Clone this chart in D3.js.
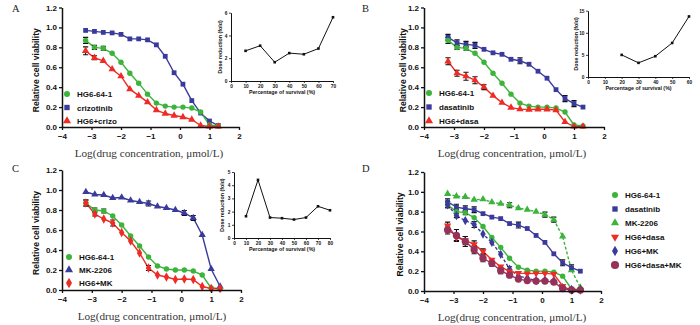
<!DOCTYPE html>
<html>
<head>
<meta charset="utf-8">
<script src="https://cdn.jsdelivr.net/npm/d3@7/dist/d3.min.js"></script>
<style>
  html, body { margin: 0; padding: 0; background: #fff; }
  svg { display: block; }
  .tick text { font-family: "Liberation Sans", Arial, sans-serif; font-weight: bold; fill: #111; }
</style>
</head>
<body>
<svg id="chart" width="700" height="325"></svg>
<script>
// Log10 drug concentration (µmol/L), two-fold dilution series
const logConc = [-3.2, -2.9, -2.6, -2.3, -2.0, -1.7, -1.4, -1.1, -0.8, -0.5, -0.2, 0.1, 0.4, 0.7, 1.0, 1.3];

// Relative cell viability (mean) and error (half-height of bar, 0 = none drawn)
const hg6 = [0.87, 0.80, 0.79, 0.74, 0.65, 0.54, 0.44, 0.33, 0.24, 0.21, 0.20, 0.20, 0.19, 0.15, 0.02, 0.01];
const hg6Err = [0.03, 0.02, 0.02, 0, 0, 0, 0, 0, 0, 0, 0, 0, 0, 0, 0, 0];

const crizotinib = [0.97, 0.96, 0.95, 0.945, 0.93, 0.885, 0.885, 0.875, 0.825, 0.71, 0.545, 0.43, 0.265, 0.14, 0.06, 0.015];
const crizotinibErr = [0, 0, 0, 0, 0, 0, 0, 0, 0, 0, 0, 0, 0, 0, 0, 0];

const hg6Crizo = [0.765, 0.695, 0.665, 0.58, 0.51, 0.38, 0.315, 0.25, 0.17, 0.135, 0.115, 0.10, 0.075, 0.015, 0.005, 0.005];
const hg6CrizoErr = [0.04, 0.02, 0, 0, 0, 0, 0, 0, 0, 0, 0, 0, 0, 0, 0, 0];

const dasatinib = [0.90, 0.845, 0.83, 0.82, 0.78, 0.745, 0.73, 0.68, 0.665, 0.63, 0.56, 0.49, 0.375, 0.285, 0.235, 0.20];
const dasatinibErr = [0.03, 0.03, 0.03, 0.03, 0, 0, 0, 0, 0.03, 0, 0, 0, 0, 0.03, 0.03, 0];

const hg6Dasa = [0.66, 0.54, 0.51, 0.47, 0.40, 0.315, 0.245, 0.195, 0.18, 0.175, 0.178, 0.178, 0.17, 0.05, 0.005, 0.005];
const hg6DasaErr = [0.035, 0.03, 0.04, 0.035, 0.025, 0, 0, 0, 0, 0, 0, 0, 0, 0, 0, 0];

const mk2206 = [0.98, 0.955, 0.95, 0.92, 0.925, 0.895, 0.88, 0.865, 0.835, 0.82, 0.80, 0.77, 0.72, 0.55, 0.21, 0.035];
const mk2206Err = [0, 0, 0, 0, 0, 0, 0, 0.025, 0, 0, 0, 0.025, 0.025, 0, 0, 0];

const hg6MK = [0.87, 0.76, 0.71, 0.67, 0.575, 0.49, 0.37, 0.22, 0.15, 0.13, 0.105, 0.11, 0.105, 0.035, 0.015, 0.015];
const hg6MKErr = [0.03, 0.02, 0, 0.03, 0, 0, 0, 0.025, 0, 0, 0, 0, 0, 0, 0, 0];

const hg6DasaMK = [0.615, 0.56, 0.50, 0.415, 0.33, 0.28, 0.205, 0.16, 0.12, 0.105, 0.10, 0.10, 0.09, 0.025, 0.01, 0.01];
const hg6DasaMKErr = [0.04, 0.06, 0.05, 0.04, 0.035, 0.03, 0.03, 0.02, 0, 0, 0, 0, 0, 0, 0, 0];

// Axis ticks
const xTicks = [-4, -3, -2, -1, 0, 1, 2];
const yTicks = [0, 0.2, 0.4, 0.6, 0.8, 1.0, 1.2];

// Dose-reduction insets
const survivalA = [10, 20, 30, 40, 50, 60, 70];
const foldA = [2.65, 3.1, 1.65, 2.45, 2.35, 2.85, 5.6];
const survivalB = [20, 30, 40, 50, 60];
const foldB = [5.0, 3.2, 4.7, 7.7, 13.7];
const survivalC = [10, 20, 30, 40, 50, 60, 70, 80];
const foldC = [1.65, 4.4, 1.55, 1.5, 1.4, 1.55, 2.4, 2.1];

const GREEN = "#3cb43c", NAVY = "#3a3a9c", RED = "#ee2b24", MAROON = "#96325a";
const SANS = "'Liberation Sans', Arial, sans-serif";
const SERIF = "'Liberation Serif', 'Times New Roman', serif";

const svg = d3.select("#chart");

const marker = {
  circle:   { type: d3.symbolCircle,   size: 23, rot: 0 },
  square:   { type: d3.symbolSquare,   size: 23, rot: 0 },
  triangle: { type: d3.symbolTriangle, size: 23, rot: 0 },
  tridown:  { type: d3.symbolTriangle, size: 23, rot: 180 },
  diamond:  { type: d3.symbolDiamond,  size: 25, rot: 0 },
  bigdot:   { type: d3.symbolCircle,   size: 42, rot: 0 }
};

function drawPanel(cfg) {
  const g = svg.append("g");
  const x = d3.scaleLinear().domain([-4, 2]).range([cfg.x0, cfg.x1]);
  const y = d3.scaleLinear().domain([0, 1.2]).range([cfg.yBot, cfg.yTop]);

  // lines
  cfg.series.forEach(s => {
    const line = d3.line().x((d, i) => x(logConc[i])).y(d => y(d));
    g.append("path").datum(s.values)
      .attr("d", line).attr("fill", "none")
      .attr("stroke", s.color).attr("stroke-width", 1.4)
      .attr("stroke-dasharray", s.dashed ? "3,2" : null);
  });
  // error bars
  cfg.series.forEach(s => {
    s.err.forEach((e, i) => {
      if (!e) return;
      const cx = x(logConc[i]), yt = y(s.values[i] + e), yb = y(s.values[i] - e);
      g.append("path")
        .attr("d", `M${cx},${yt}V${yb}M${cx - 2.6},${yt}H${cx + 2.6}M${cx - 2.6},${yb}H${cx + 2.6}`)
        .attr("stroke", "#111").attr("stroke-width", 1.1).attr("fill", "none");
    });
  });
  // markers
  cfg.series.forEach(s => {
    const m = marker[s.shape];
    g.selectAll(null).data(s.values).join("path")
      .attr("d", d3.symbol().type(m.type).size(m.size))
      .attr("transform", (d, i) => `translate(${x(logConc[i])},${y(d)}) rotate(${m.rot})`)
      .attr("fill", s.color);
  });

  // axes
  const ax = g.append("g").attr("transform", `translate(0,${cfg.yBot})`)
    .call(d3.axisBottom(x).tickValues(xTicks).tickFormat(d3.format("d")).tickSize(3).tickPadding(3).tickSizeOuter(0));
  const ay = g.append("g").attr("transform", `translate(${cfg.x0},0)`)
    .call(d3.axisLeft(y).tickValues(yTicks).tickFormat(d3.format(".1f")).tickSize(3).tickPadding(2).tickSizeOuter(0));
  [ax, ay].forEach(a => {
    a.selectAll("path.domain").attr("stroke", "#111").attr("stroke-width", 1.5);
    a.selectAll(".tick line").attr("stroke", "#111").attr("stroke-width", 1.3);
    a.selectAll(".tick text").style("font-size", "8px").style("font-family", SANS).style("font-weight", "bold");
  });

  // axis titles
  g.append("text")
    .attr("transform", `translate(${cfg.yTitleX},${(cfg.yTop + cfg.yBot) / 2 + 3}) rotate(-90)`)
    .attr("text-anchor", "middle")
    .style("font-family", SANS).style("font-weight", "bold").style("font-size", "8.6px").attr("fill", "#111")
    .text("Relative cell viability");
  g.append("text")
    .attr("x", cfg.xTitleX).attr("y", cfg.yBot + 30)
    .attr("text-anchor", "middle")
    .style("font-family", SERIF).style("font-size", "11.2px").attr("fill", "#333")
    .text("Log(drug concentration, μmol/L)");

  // panel letter
  g.append("text").attr("x", cfg.letterX).attr("y", cfg.letterY)
    .style("font-family", SERIF).style("font-size", "10.5px").attr("fill", "#222")
    .text(cfg.letter);

  // legend
  cfg.series.slice().sort((a, b) => a.legendOrder - b.legendOrder).forEach((s, i) => {
    const ly = cfg.legend.y + i * cfg.legend.dy;
    const m = marker[s.shape];
    g.append("path")
      .attr("d", d3.symbol().type(m.type).size(m.size * 1.25))
      .attr("transform", `translate(${cfg.legend.x},${ly}) rotate(${m.rot})`)
      .attr("fill", s.color);
    g.append("text").attr("x", cfg.legend.x + 10).attr("y", ly + 3)
      .style("font-family", SANS).style("font-weight", "bold").style("font-size", "8px").attr("fill", "#111")
      .text(s.name);
  });
}

function drawInset(cfg) {
  const g = svg.append("g");
  const x = d3.scaleLinear().domain([0, cfg.xMax]).range([cfg.x0, cfg.x1]);
  const y = d3.scaleLinear().domain([0, cfg.yMax]).range([cfg.yBot, cfg.yTop]);
  const pts = cfg.xs.map((v, i) => [v, cfg.ys[i]]);
  g.append("path").datum(pts)
    .attr("d", d3.line().x(d => x(d[0])).y(d => y(d[1])))
    .attr("fill", "none").attr("stroke", "#111").attr("stroke-width", 1);
  g.selectAll(null).data(pts).join("rect")
    .attr("x", d => x(d[0]) - 1.3).attr("y", d => y(d[1]) - 1.3)
    .attr("width", 2.6).attr("height", 2.6).attr("fill", "#111");

  const ax = g.append("g").attr("transform", `translate(0,${cfg.yBot})`)
    .call(d3.axisBottom(x).tickValues(d3.range(0, cfg.xMax + 1, 10)).tickFormat(d3.format("d"))
      .tickSize(2).tickPadding(1.5).tickSizeOuter(0));
  const ay = g.append("g").attr("transform", `translate(${cfg.x0},0)`)
    .call(d3.axisLeft(y).tickValues(cfg.yTicks).tickFormat(d3.format("d"))
      .tickSize(2).tickPadding(1.5).tickSizeOuter(0));
  [ax, ay].forEach(a => {
    a.selectAll("path.domain").attr("stroke", "#111").attr("stroke-width", 1);
    a.selectAll(".tick line").attr("stroke", "#111").attr("stroke-width", 0.8);
    a.selectAll(".tick text").style("font-size", "4.8px").style("font-family", SANS).style("font-weight", "bold");
  });
  g.append("text")
    .attr("x", (cfg.x0 + cfg.x1) / 2).attr("y", cfg.yBot + 13)
    .attr("text-anchor", "middle")
    .style("font-family", SANS).style("font-weight", "bold").style("font-size", "5.3px").attr("fill", "#111")
    .text("Percentage of survival (%)");
  g.append("text")
    .attr("transform", `translate(${cfg.yTitleX},${(cfg.yTop + cfg.yBot) / 2}) rotate(-90)`)
    .attr("text-anchor", "middle")
    .style("font-family", SANS).style("font-weight", "bold").style("font-size", "5.3px").attr("fill", "#111")
    .text("Dose reduction (fold)");
}

drawPanel({
  letter: "A", letterX: 12, letterY: 12,
  x0: 62, x1: 239, yTop: 7.5, yBot: 127, yTitleX: 39, xTitleX: 149,
  legend: { x: 67, y: 94, dy: 13.5 },
  series: [
    { name: "crizotinib", values: crizotinib, err: crizotinibErr, color: NAVY, shape: "square", legendOrder: 1 },
    { name: "HG6-64-1", values: hg6, err: hg6Err, color: GREEN, shape: "circle", legendOrder: 0 },
    { name: "HG6+crizo", values: hg6Crizo, err: hg6CrizoErr, color: RED, shape: "triangle", legendOrder: 2 }
  ]
});

drawPanel({
  letter: "B", letterX: 362, letterY: 12,
  x0: 424, x1: 604, yTop: 7.5, yBot: 127, yTitleX: 406, xTitleX: 512,
  legend: { x: 429, y: 93, dy: 14 },
  series: [
    { name: "dasatinib", values: dasatinib, err: dasatinibErr, color: NAVY, shape: "square", legendOrder: 1 },
    { name: "HG6-64-1", values: hg6, err: hg6Err, color: GREEN, shape: "circle", legendOrder: 0 },
    { name: "HG6+dasa", values: hg6Dasa, err: hg6DasaErr, color: RED, shape: "triangle", legendOrder: 2 }
  ]
});

drawPanel({
  letter: "C", letterX: 12, letterY: 172,
  x0: 62, x1: 241, yTop: 170, yBot: 290, yTitleX: 39, xTitleX: 152,
  legend: { x: 69, y: 257, dy: 13 },
  series: [
    { name: "MK-2206", values: mk2206, err: mk2206Err, color: NAVY, shape: "triangle", legendOrder: 1 },
    { name: "HG6-64-1", values: hg6, err: hg6Err, color: GREEN, shape: "circle", legendOrder: 0 },
    { name: "HG6+MK", values: hg6MK, err: hg6MKErr, color: RED, shape: "diamond", legendOrder: 2 }
  ]
});

drawPanel({
  letter: "D", letterX: 362, letterY: 172,
  x0: 424, x1: 601, yTop: 172, yBot: 291, yTitleX: 403, xTitleX: 512,
  legend: { x: 615, y: 195, dy: 14 },
  series: [
    { name: "MK-2206", values: mk2206, err: mk2206Err, color: GREEN, shape: "triangle", dashed: true, legendOrder: 2 },
    { name: "dasatinib", values: dasatinib, err: dasatinibErr, color: NAVY, shape: "square", legendOrder: 1 },
    { name: "HG6-64-1", values: hg6, err: hg6Err, color: GREEN, shape: "circle", legendOrder: 0 },
    { name: "HG6+MK", values: hg6MK, err: hg6MKErr, color: NAVY, shape: "diamond", dashed: true, legendOrder: 4 },
    { name: "HG6+dasa", values: hg6Dasa, err: hg6DasaErr, color: RED, shape: "tridown", legendOrder: 3 },
    { name: "HG6+dasa+MK", values: hg6DasaMK, err: hg6DasaMKErr, color: MAROON, shape: "bigdot", legendOrder: 5 }
  ]
});

drawInset({ x0: 231, x1: 333, yTop: 12.7, yBot: 81, xMax: 70, yMax: 6, yTicks: [0, 2, 4, 6], yTitleX: 222, xs: survivalA, ys: foldA });
drawInset({ x0: 588, x1: 689, yTop: 10.7, yBot: 77, xMax: 60, yMax: 15, yTicks: [0, 5, 10, 15], yTitleX: 578, xs: survivalB, ys: foldB });
drawInset({ x0: 234, x1: 330, yTop: 172, yBot: 238, xMax: 80, yMax: 5, yTicks: [0, 1, 2, 3, 4, 5], yTitleX: 224, xs: survivalC, ys: foldC });
</script>
</body>
</html>
